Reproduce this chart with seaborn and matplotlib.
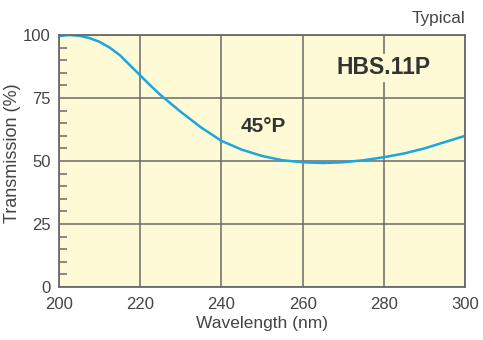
import matplotlib
matplotlib.use("Agg")
import matplotlib.pyplot as plt
import seaborn as sns
import numpy as np
from matplotlib.ticker import MultipleLocator

# Transmission curve (45 deg, P-polarised)
wavelength = [200, 202.5, 205, 207.5, 210, 212.5, 215, 217.5, 220, 222.5,
              225, 230, 235, 240, 245, 250, 255, 260, 265, 270, 275, 280,
              285, 290, 295, 300]
transmission = [99.6, 100, 99.7, 98.8, 97.3, 95, 92, 88, 84, 80,
                76.2, 69.5, 63.3, 58, 54.5, 52, 50.3, 49.5, 49.2, 49.5,
                50.3, 51.5, 53, 55, 57.5, 60]
x_ticks = [200, 220, 240, 260, 280, 300]
y_ticks = [0, 25, 50, 75, 100]

sns.set_style("white")
plt.rcParams['font.family'] = ['Liberation Sans', 'DejaVu Sans']

fig = plt.figure(figsize=(4.83, 3.40), dpi=100)
ax = fig.add_axes([0.122, 0.156, 0.841, 0.741])
ax.set_facecolor("#fefad6")

sns.lineplot(x=wavelength, y=transmission, ax=ax, color="#1ba6e0", linewidth=1.8)

ax.set_xlim(200, 300)
ax.set_ylim(0, 100)
ax.set_xticks(x_ticks)
ax.set_yticks(y_ticks)
ax.yaxis.set_minor_locator(MultipleLocator(5))
ax.grid(True, which="major", color="#6a6a6a", linewidth=1.1)
ax.set_axisbelow(True)
ax.tick_params(axis="x", which="major", labelsize=12, labelcolor="#444444",
               length=0, pad=7)
ax.tick_params(axis="y", which="major", labelsize=12, labelcolor="#444444",
               length=0, pad=6)
ax.tick_params(axis="y", which="minor", direction="in", length=6, width=1.1,
               color="#6a6a6a", left=True)
for s in ax.spines.values():
    s.set_color("#6a6a6a")
    s.set_linewidth(1.3)

ax.set_xlabel("Wavelength (nm)", fontsize=12.5, color="#444444", labelpad=3)
ax.set_ylabel("Transmission (%)", fontsize=13, color="#444444")
ax.yaxis.set_label_coords(-0.094, 0.53)

ax.text(280, 87, "HBS.11P", fontsize=16.5, fontweight="bold", color="#333333",
        ha="center", va="center",
        bbox=dict(facecolor="#fefad6", edgecolor="none", pad=2))
ax.text(250.2, 63.5, "45°P", fontsize=15, fontweight="bold", color="#333333",
        ha="center", va="center")
fig.text(0.963, 0.945, "Typical", fontsize=12.4, color="#444444", ha="right",
         va="center")

fig.savefig("out.png", dpi=100)
